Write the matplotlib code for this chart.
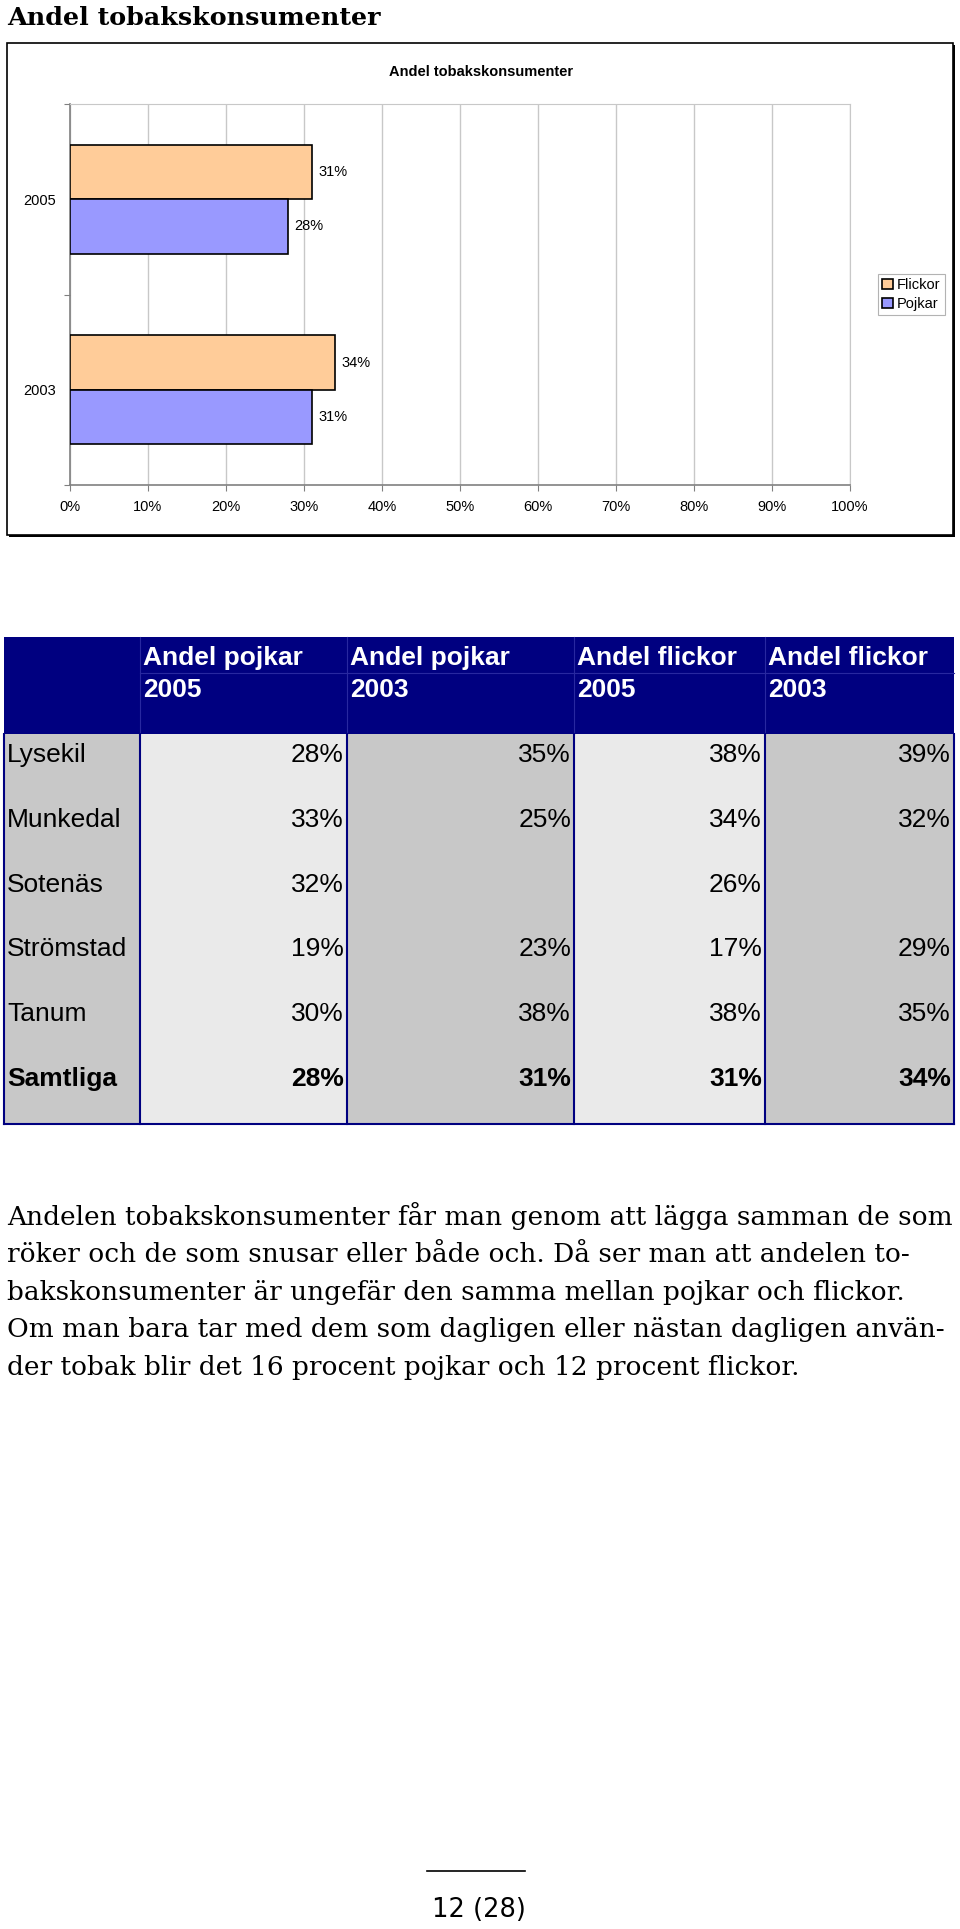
import matplotlib
matplotlib.use('Agg')
import matplotlib.pyplot as plt
from matplotlib.patches import Rectangle, Patch
import numpy as np

W, H = 960, 1929

# bar chart data
years = ['2005', '2003']
flickor = [0.31, 0.34]
pojkar = [0.28, 0.31]
xticks = [0.0, 0.1, 0.2, 0.3, 0.4, 0.5, 0.6, 0.7, 0.8, 0.9, 1.0]

# table data
kommuner = ['Lysekil', 'Munkedal', 'Sotenäs', 'Strömstad', 'Tanum', 'Samtliga']
col_headers = [('Andel pojkar', '2005'), ('Andel pojkar', '2003'),
               ('Andel flickor', '2005'), ('Andel flickor', '2003')]
pojkar_2005 = [28, 33, 32, 19, 30, 28]
pojkar_2003 = [35, 25, None, 23, 38, 31]
flickor_2005 = [38, 34, 26, 17, 38, 31]
flickor_2003 = [39, 32, None, 29, 35, 34]

text_lines = [
    'Andelen tobakskonsumenter får man genom att lägga samman de som',
    'röker och de som snusar eller både och. Då ser man att andelen to-',
    'bakskonsumenter är ungefär den samma mellan pojkar och flickor.',
    'Om man bara tar med dem som dagligen eller nästan dagligen använ-',
    'der tobak blir det 16 procent pojkar och 12 procent flickor.',
]
page_label = '12 (28)'

SANS = ['Liberation Sans', 'DejaVu Sans']
SERIF = ['DejaVu Serif']

fig = plt.figure(figsize=(W / 100, H / 100), dpi=100)
page = fig.add_axes([0, 0, 1, 1])
page.set_xlim(0, W)
page.set_ylim(H, 0)
page.axis('off')

# page heading
page.text(7, 25, 'Andel tobakskonsumenter', family=SERIF, weight='bold',
          size=18.3, ha='left', va='baseline')

# chart frame with shadow
page.add_patch(Rectangle((9, 45), 946, 492, facecolor='black', edgecolor='none'))
page.add_patch(Rectangle((7, 43), 946, 492, facecolor='white', edgecolor='black', lw=1.2))
page.text(481, 76, 'Andel tobakskonsumenter', family=SANS, weight='bold',
          size=10.5, ha='center', va='baseline')

# bar chart
ax = fig.add_axes([70 / W, 1 - 485 / H, 780 / W, 381 / H], zorder=2)
ax.patch.set_alpha(0)
y = np.arange(len(years))
h = 0.286
ax.barh(y - h / 2, flickor, height=h, color='#FFCC99', edgecolor='black', lw=1.2, zorder=3)
ax.barh(y + h / 2, pojkar, height=h, color='#9999FF', edgecolor='black', lw=1.2, zorder=3)
for yy, v in zip(y - h / 2, flickor):
    ax.text(v + 0.008, yy, f'{v:.0%}', va='center', ha='left', size=10.5, family=SANS)
for yy, v in zip(y + h / 2, pojkar):
    ax.text(v + 0.008, yy, f'{v:.0%}', va='center', ha='left', size=10.5, family=SANS)

ax.set_xlim(0, 1)
ax.set_ylim(1.5, -0.5)
ax.set_xticks(xticks)
ax.set_xticklabels([f'{int(round(t * 100))}%' for t in xticks], family=SANS, size=10.5)
ax.xaxis.grid(True, color='#c8c8c8', lw=1)
ax.set_axisbelow(True)
ax.set_yticks([-0.5, 0.5, 1.5])
ax.set_yticklabels([])
ax.set_yticks(y, minor=True)
ax.set_yticklabels(years, minor=True, family=SANS, size=10.5)
ax.tick_params(axis='y', which='major', length=4, color='#808080')
ax.tick_params(axis='y', which='minor', length=0, pad=10)
ax.tick_params(axis='x', length=4, color='#808080', pad=7)
for s in ['left', 'bottom']:
    ax.spines[s].set_color('#808080')
    ax.spines[s].set_linewidth(1.2)
for s in ['top', 'right']:
    ax.spines[s].set_color('#c8c8c8')

handles = [Patch(facecolor='#FFCC99', edgecolor='black', lw=1.2, label='Flickor'),
           Patch(facecolor='#9999FF', edgecolor='black', lw=1.2, label='Pojkar')]
leg = fig.legend(handles=handles, loc='center', bbox_to_anchor=(911.5 / W, 1 - 294.5 / H),
                 fancybox=False, edgecolor='#a0a0a0', prop={'family': SANS, 'size': 10.5},
                 handlelength=0.7, handleheight=0.7, handletextpad=0.3,
                 borderpad=0.3, labelspacing=0.35, borderaxespad=0)
leg.get_frame().set_linewidth(0.8)

# table
cols_x = [4, 140, 347, 574, 765, 954]
head_top, head_bot, tab_bot = 637, 734, 1124
navy = '#000080'
fills = ['#C8C8C8', '#EAEAEA', '#C8C8C8', '#EAEAEA', '#C8C8C8']
for i in range(5):
    page.add_patch(Rectangle((cols_x[i], head_bot), cols_x[i + 1] - cols_x[i],
                             tab_bot - head_bot, facecolor=fills[i], edgecolor='none'))
page.add_patch(Rectangle((cols_x[0], head_top), cols_x[-1] - cols_x[0],
                         head_bot - head_top, facecolor=navy, edgecolor='none'))
page.plot([cols_x[1], cols_x[-1]], [673, 673], color='#2828a0', lw=0.8)
for x in cols_x[1:-1]:
    page.plot([x, x], [head_top, head_bot], color='#2828a0', lw=0.8)
for x in cols_x:
    page.plot([x, x], [head_bot, tab_bot], color=navy, lw=1.5)
page.plot([cols_x[0], cols_x[-1]], [tab_bot, tab_bot], color=navy, lw=1.5)

TS = 19
for j, (l1, l2) in enumerate(col_headers):
    page.text(cols_x[j + 1] + 3, 665, l1, color='white', weight='bold', size=TS,
              family=SANS, va='baseline', ha='left')
    page.text(cols_x[j + 1] + 3, 697, l2, color='white', weight='bold', size=TS,
              family=SANS, va='baseline', ha='left')

columns = [pojkar_2005, pojkar_2003, flickor_2005, flickor_2003]
for i, name in enumerate(kommuner):
    yb = 762 + i * 64.8
    wt = 'bold' if name == 'Samtliga' else 'normal'
    page.text(7, yb, name, size=TS, family=SANS, weight=wt, va='baseline', ha='left')
    for j, col in enumerate(columns):
        if col[i] is None:
            continue
        page.text(cols_x[j + 2] - 3, yb, f'{col[i]}%', size=TS, family=SANS,
                  weight=wt, va='baseline', ha='right')

# paragraph, sized so the first line fills the text width
renderer = fig.canvas.get_renderer()
probe = page.text(7, 0, text_lines[0], family=SERIF, size=20)
wpx = probe.get_window_extent(renderer).width
probe.remove()
psize = 20 * 943 / wpx
for k, line in enumerate(text_lines):
    page.text(7, 1225 + k * 37.4, line, family=SERIF, size=psize, va='baseline', ha='left')

# page number
page.plot([427, 525], [1871, 1871], color='black', lw=1.2)
page.text(479, 1917, page_label, family='DejaVu Sans', size=18.5, ha='center', va='baseline')

fig.savefig('out.png', dpi=100)
